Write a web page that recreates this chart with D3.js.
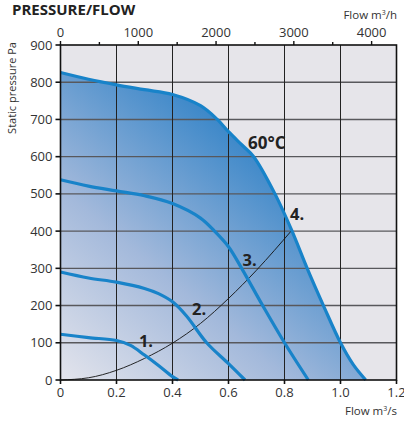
<!DOCTYPE html>
<html><head><meta charset="utf-8">
<script src="https://cdn.jsdelivr.net/npm/d3@7"></script>
<style>
html,body{margin:0;padding:0;background:#fff;}
svg{display:block;font-family:"Open Sans",sans-serif;}
</style></head>
<body>
<svg id="chart" width="404" height="421"></svg>
<script>
// Data
const curve4 = [[0,826],[0.1,808],[0.2,793],[0.3,780],[0.4,767],[0.5,737],[0.56,700],[0.6,667],[0.65,630],[0.69,600],[0.766,500],[0.827,400],[0.881,300],[0.939,200],[1.0,100],[1.045,42],[1.09,0]];
const curve3 = [[0,538],[0.1,521],[0.2,508],[0.3,495],[0.4,474],[0.5,435],[0.55,400],[0.6,358],[0.647,300],[0.722,200],[0.80,100],[0.885,0]];
const curve2 = [[0,290],[0.1,274],[0.2,263],[0.3,246],[0.35,232],[0.4,210],[0.45,172],[0.522,100],[0.6,44],[0.659,0]];
const curve1 = [[0,123],[0.1,114],[0.2,106],[0.25,93],[0.3,67],[0.35,39],[0.4,9],[0.42,0]];
const systemCurve = [[0,0],[0.1,6],[0.2,26],[0.3,58],[0.4,99],[0.5,152],[0.6,219],[0.7,295],[0.827,403]];
const curveLabels = [["1.",0.28,90],["2.",0.47,175],["3.",0.65,305],["4.",0.82,430]];
const tempLabel = ["60°C",0.67,620];
const xTicks = [0,0.2,0.4,0.6,0.8,1.0,1.2];
const xTickLabels = ["0","0.2","0.4","0.6","0.8","1.0","1.2"];
const yTicks = [0,100,200,300,400,500,600,700,800,900];
const topTicks = [0,500,1000,1500,2000,2500,3000,3500,4000];
const topTickLabels = ["0","1000","2000","3000","4000"];

const svg = d3.select("#chart");
const x = d3.scaleLinear().domain([0,1.2]).range([60.5,396.5]);
const y = d3.scaleLinear().domain([0,900]).range([380,45]);
const xTop = d3.scaleLinear().domain([0,1.2*3600]).range([60.5,396.5]);

const defs = svg.append("defs");
const grad = defs.append("linearGradient").attr("id","g").attr("gradientUnits","userSpaceOnUse")
  .attr("x1",60).attr("y1",380).attr("x2",270).attr("y2",130);
grad.append("stop").attr("offset",0).attr("stop-color","#e3e4ec");
grad.append("stop").attr("offset",0.45).attr("stop-color","#a3b9db");
grad.append("stop").attr("offset",1).attr("stop-color","#2c80c6");

// plot bg
svg.append("rect").attr("x",x(0)).attr("y",y(900)).attr("width",x(1.2)-x(0)).attr("height",y(0)-y(900)).attr("fill","#e6e5ea");

const line = d3.line().x(d=>x(d[0])).y(d=>y(d[1])).curve(d3.curveCatmullRom.alpha(0.5));
const area = d3.area().x(d=>x(d[0])).y0(y(0)).y1(d=>y(d[1])).curve(d3.curveCatmullRom.alpha(0.5));
svg.append("path").datum(curve4).attr("d",area).attr("fill","url(#g)");

// grid
svg.append("g").selectAll("line").data(yTicks.slice(1,-1)).join("line")
  .attr("x1",x(0)).attr("x2",x(1.2)).attr("y1",d=>y(d)).attr("y2",d=>y(d))
  .attr("stroke","#58585c").attr("stroke-width",1.4);
svg.append("g").selectAll("line").data(xTicks.slice(1,-1)).join("line")
  .attr("y1",y(0)).attr("y2",y(900)).attr("x1",d=>x(d)).attr("x2",d=>x(d))
  .attr("stroke","#222").attr("stroke-width",1);

// system curve
svg.append("path").datum(systemCurve).attr("d",d3.line().x(d=>x(d[0])).y(d=>y(d[1])).curve(d3.curveMonotoneX))
  .attr("fill","none").attr("stroke","#111").attr("stroke-width",0.9);

// fan curves
[curve4,curve3,curve2,curve1].forEach(c=>{
  svg.append("path").datum(c).attr("d",line).attr("fill","none").attr("stroke","#1883c9").attr("stroke-width",3.2);
});

// labels
svg.append("g").selectAll("text").data(curveLabels).join("text")
  .attr("x",d=>x(d[1])).attr("y",d=>y(d[2])).text(d=>d[0])
  .attr("font-size",16.5).attr("font-weight","bold").attr("fill","#222");
svg.append("text").attr("x",x(tempLabel[1])).attr("y",y(tempLabel[2])).text(tempLabel[0])
  .attr("font-size",17).attr("font-weight","bold").attr("fill","#222");

// frame
svg.append("rect").attr("x",x(0)).attr("y",y(900)).attr("width",x(1.2)-x(0)).attr("height",y(0)-y(900))
  .attr("fill","none").attr("stroke","#111").attr("stroke-width",1.6);

// left axis
const gl = svg.append("g");
gl.selectAll("line").data(yTicks).join("line").attr("x1",x(0)-5).attr("x2",x(0)).attr("y1",d=>y(d)).attr("y2",d=>y(d)).attr("stroke","#111").attr("stroke-width",1.6);
gl.selectAll("text").data(yTicks).join("text").attr("x",x(0)-8).attr("y",d=>y(d)+4.5).attr("text-anchor","end").text(d=>d)
  .attr("font-size",13).attr("fill","#333");

// bottom axis
const gb = svg.append("g");
gb.selectAll("line").data(xTicks).join("line").attr("x1",d=>x(d)).attr("x2",d=>x(d)).attr("y1",y(0)).attr("y2",y(0)+4).attr("stroke","#111").attr("stroke-width",1.6);
gb.selectAll("text").data(xTicks).join("text").attr("x",d=>x(d)).attr("y",397).attr("text-anchor","middle").text((d,i)=>xTickLabels[i])
  .attr("font-size",13).attr("fill","#333");

// top axis
const gt = svg.append("g");
gt.selectAll("line").data(topTicks).join("line").attr("x1",d=>xTop(d)).attr("x2",d=>xTop(d)).attr("y1",y(900)).attr("y2",d=>y(900)-(d%1000===0?4:3)).attr("stroke","#111").attr("stroke-width",1.4);
gt.selectAll("text").data(topTickLabels).join("text").attr("x",d=>xTop(+d)).attr("y",37).attr("text-anchor","middle").text(d=>d)
  .attr("font-size",13).attr("fill","#333");

// titles
svg.append("text").attr("x",12).attr("y",15).text("PRESSURE/FLOW").attr("font-size",15).attr("font-weight","bold").attr("fill","#222");
const th = svg.append("text").attr("x",397).attr("y",19).attr("text-anchor","end").attr("font-size",11.5).attr("fill","#333");
th.append("tspan").text("Flow m");
th.append("tspan").text("3").attr("font-size",7).attr("dy",-4);
th.append("tspan").text("/h").attr("dy",4);
const ts = svg.append("text").attr("x",397).attr("y",415).attr("text-anchor","end").attr("font-size",11.5).attr("fill","#333");
ts.append("tspan").text("Flow m");
ts.append("tspan").text("3").attr("font-size",7).attr("dy",-4);
ts.append("tspan").text("/s").attr("dy",4);
svg.append("text").attr("transform","translate(16,88) rotate(-90)").attr("text-anchor","middle").text("Static pressure Pa")
  .attr("font-size",11).attr("fill","#333");
</script>
</body></html>
